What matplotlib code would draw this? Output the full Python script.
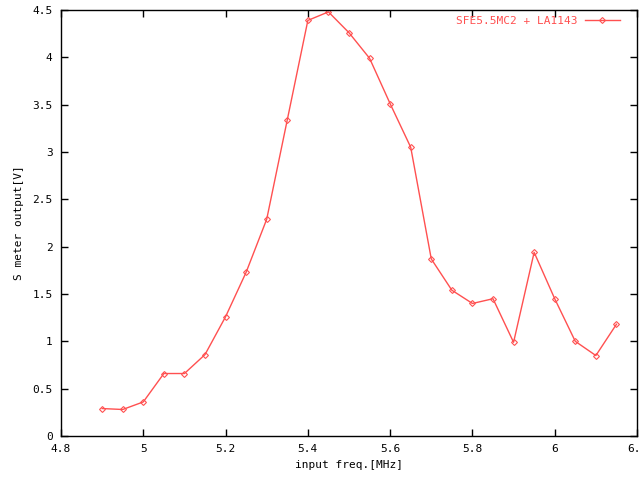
import numpy as np
import matplotlib
matplotlib.use("Agg")
import matplotlib.pyplot as plt
from matplotlib.ticker import MultipleLocator

freq = [4.90, 4.95, 5.00, 5.05, 5.10, 5.15, 5.20, 5.25, 5.30, 5.35,
        5.40, 5.45, 5.50, 5.55, 5.60, 5.65, 5.70, 5.75, 5.80, 5.85,
        5.90, 5.95, 6.00, 6.05, 6.10, 6.15]
s_meter = [0.29, 0.28, 0.36, 0.66, 0.66, 0.86, 1.26, 1.73, 2.29, 3.34,
           4.39, 4.48, 4.26, 3.99, 3.51, 3.05, 1.87, 1.54, 1.40, 1.45,
           0.99, 1.94, 1.45, 1.00, 0.85, 1.18]

plt.rcParams['font.family'] = 'DejaVu Sans Mono'
plt.rcParams['font.size'] = 8

fig = plt.figure(figsize=(6.4, 4.8), dpi=100)
ax = fig.add_axes([61 / 640, 1 - 436 / 480, 576 / 640, 426 / 480])

red = '#ff5050'
ax.plot(freq, s_meter, color=red, lw=1, marker='D', markersize=3,
        markerfacecolor='none', markeredgecolor=red, markeredgewidth=0.8,
        label='SFE5.5MC2 + LA1143')

ax.set_xlim(4.8, 6.2)
ax.set_ylim(0, 4.5)
ax.xaxis.set_major_locator(MultipleLocator(0.2))
ax.yaxis.set_major_locator(MultipleLocator(0.5))
ax.xaxis.set_major_formatter(plt.FuncFormatter(lambda v, p: '%g' % round(v, 2)))
ax.yaxis.set_major_formatter(plt.FuncFormatter(lambda v, p: '%g' % round(v, 2)))
ax.tick_params(direction='in', top=True, right=True, length=5, width=1, pad=6)
for s in ax.spines.values():
    s.set_linewidth(1)

ax.set_xlabel('input freq.[MHz]', labelpad=4)
ax.set_ylabel('S meter output[V]', labelpad=6)

ax.legend(loc='upper right', bbox_to_anchor=(1 - 9 / 576, 1 + 2 / 426),
          frameon=False, markerfirst=False,
          handlelength=3.2, borderaxespad=0.3, handletextpad=0.6,
          labelcolor=red)

fig.savefig('out.png', dpi=100)
